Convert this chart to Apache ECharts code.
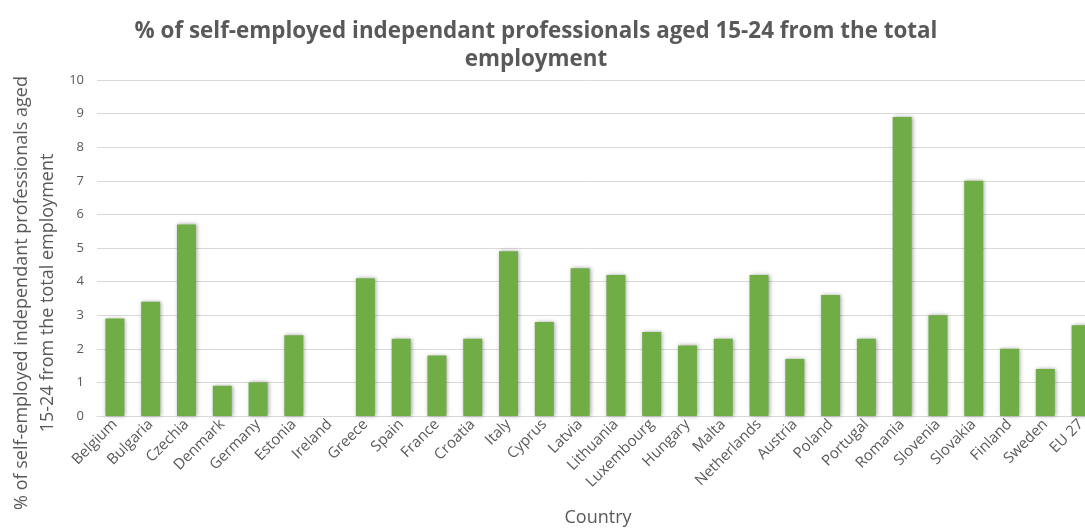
<!DOCTYPE html>
<html>
<head>
<meta charset="utf-8">
<script src="https://cdn.jsdelivr.net/npm/echarts@6/dist/echarts.min.js"></script>
<style>
  html, body { margin: 0; padding: 0; background: #ffffff; overflow: hidden; }
  #chart { width: 1085px; height: 529px; }
</style>
</head>
<body>
<div id="chart"></div>
<script>
// Share of self-employed independent professionals aged 15-24 in total employment, by country
const countries = [
  'Belgium', 'Bulgaria', 'Czechia', 'Denmark', 'Germany', 'Estonia', 'Ireland',
  'Greece', 'Spain', 'France', 'Croatia', 'Italy', 'Cyprus', 'Latvia',
  'Lithuania', 'Luxembourg', 'Hungary', 'Malta', 'Netherlands', 'Austria',
  'Poland', 'Portugal', 'Romania', 'Slovenia', 'Slovakia', 'Finland', 'Sweden', 'EU 27'
];
const shares = [
  2.9, 3.4, 5.7, 0.9, 1.0, 2.4, null,
  4.1, 2.3, 1.8, 2.3, 4.9, 2.8, 4.4,
  4.2, 2.5, 2.1, 2.3, 4.2, 1.7,
  3.6, 2.3, 8.9, 3.0, 7.0, 2.0, 1.4, 2.7
];
const yMin = 0, yMax = 10, yStep = 1;

const titleText = '% of self-employed independant professionals aged 15-24 from the total\nemployment';
const yName = '% of self-employed independant professionals aged\n15-24 from the total employment';
const xName = 'Country';

const textColor = '#595959';
const font = '"Open Sans", "Liberation Sans", sans-serif';

const chart = echarts.init(document.getElementById('chart'));
chart.setOption({
  animation: false,
  backgroundColor: '#ffffff',
  title: {
    text: titleText,
    left: 531,
    top: 13,
    textAlign: 'center',
    textStyle: {
      fontFamily: font,
      fontWeight: 'bold',
      fontSize: 22.4,
      lineHeight: 28,
      color: textColor
    }
  },
  graphic: [{
    type: 'text',
    x: 35,
    y: 293,
    rotation: Math.PI / 2,
    style: {
      text: yName,
      fontFamily: font,
      fontSize: 18,
      lineHeight: 26,
      fill: textColor,
      align: 'center',
      verticalAlign: 'middle'
    }
  }],
  grid: {
    left: 97,
    top: 80,
    width: 1002,
    height: 336,
    containLabel: false,
    outerBoundsMode: 'none'
  },
  xAxis: {
    type: 'category',
    data: countries,
    name: xName,
    nameLocation: 'middle',
    nameGap: 93,
    nameTextStyle: { fontFamily: font, fontSize: 18, color: textColor },
    axisLine: { lineStyle: { color: '#d9d9d9', width: 1 } },
    axisTick: { show: false },
    axisLabel: {
      interval: 0,
      rotate: 45,
      margin: 6,
      fontFamily: font,
      fontSize: 15,
      color: textColor
    }
  },
  yAxis: {
    type: 'value',
    min: yMin,
    max: yMax,
    interval: yStep,
    axisLine: { show: false },
    axisTick: { show: false },
    splitLine: { lineStyle: { color: '#d9d9d9', width: 1 } },
    axisLabel: {
      margin: 13,
      fontFamily: font,
      fontSize: 13,
      color: textColor
    }
  },
  series: [{
    type: 'bar',
    data: shares,
    barWidth: 19,
    itemStyle: {
      color: '#70ad47',
      shadowBlur: 4,
      shadowColor: 'rgba(0,0,0,0.35)',
      shadowOffsetX: 1,
      shadowOffsetY: 0
    }
  }]
});
</script>
</body>
</html>
